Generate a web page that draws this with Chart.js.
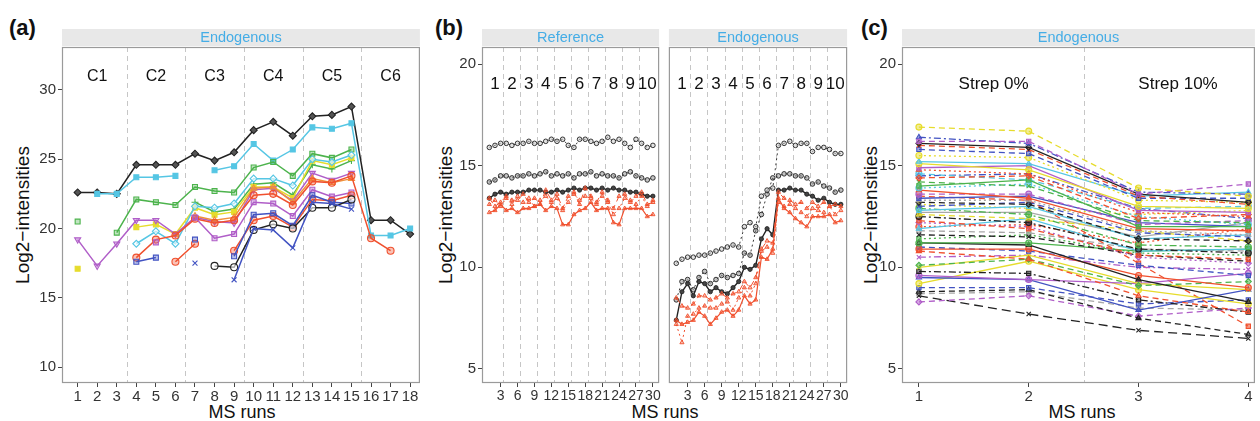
<!DOCTYPE html>
<html>
<head>
<meta charset="utf-8">
<script src="https://cdn.jsdelivr.net/npm/chart.js@4.4.1/dist/chart.umd.min.js"></script>
<style>
body { margin: 0; background: #fff; width: 1260px; height: 421px; overflow: hidden; position: relative;
       font-family: "Liberation Sans", Arial, sans-serif; }
canvas { position: absolute; top: 0; }
.lab { position: absolute; font-weight: bold; font-size: 22px; color: #111; }
.yt { position: absolute; font-size: 19px; color: #111; transform: translate(-50%, -50%) rotate(-90deg); white-space: nowrap; }
.xt { position: absolute; font-size: 18px; color: #111; transform: translate(-50%, -50%); white-space: nowrap; }
</style>
</head>
<body>
<div class="lab" style="left:9px;top:15px">(a)</div>
<div class="lab" style="left:435px;top:15px">(b)</div>
<div class="lab" style="left:861px;top:15px">(c)</div>
<div class="yt" style="left:23px;top:215px">Log2&minus;intensities</div>
<div class="yt" style="left:446px;top:215px">Log2&minus;intensities</div>
<div class="yt" style="left:871px;top:215px">Log2&minus;intensities</div>
<div class="xt" style="left:242px;top:412px">MS runs</div>
<div class="xt" style="left:665px;top:412px">MS runs</div>
<div class="xt" style="left:1082px;top:412px">MS runs</div>
<canvas id="ca" width="425" height="421" style="left:0px"></canvas>
<canvas id="cb1" width="239" height="421" style="left:425px"></canvas>
<canvas id="cb2" width="188" height="421" style="left:664px"></canvas>
<canvas id="cc" width="410" height="421" style="left:850px"></canvas>
<script>
// ---------- panel (a): 18 MS runs, 6 conditions ----------
var aTicks = [1,2,3,4,5,6,7,8,9,10,11,12,13,14,15,16,17,18];
var aGroups = ['C1','C2','C3','C4','C5','C6'];
var aGroupAt = [2,5,8,11,14,17];
var aSeps = [3.5,6.5,9.5,12.5,15.5];
var aBlack     = [22.6,22.6,22.5,24.6,24.6,24.6,25.4,24.9,25.5,27.1,27.7,26.7,28.1,28.2,28.8,20.6,20.6,19.6];
var aCyanTop   = [null,22.5,22.5,23.7,23.7,23.8,null,24.2,24.5,26.1,24.9,25.7,27.3,27.2,27.6,19.5,19.5,20.0];
var aGreenTop  = [20.5,null,19.7,22.1,21.9,21.7,23.0,22.7,22.6,24.4,24.8,23.8,25.4,25.1,25.7,null,null,null];
var aGreenMid  = [null,null,null,null,null,null,21.9,21.2,21.4,23.2,23.3,22.4,24.6,24.3,24.9,null,null,null];
var aYellow    = [17.1,null,null,20.1,20.3,19.6,21.5,21.0,21.2,23.0,23.0,22.2,24.9,24.6,25.1,null,null,null];
var aCyanLow   = [null,null,null,18.9,19.8,18.9,21.6,21.5,21.8,23.6,23.6,23.1,25.0,24.8,25.3,null,null,null];
var aPurpleTri = [19.2,17.3,18.9,20.6,20.6,19.6,20.8,20.5,20.4,22.8,22.9,22.0,24.0,23.5,24.0,null,null,null];
var aOrange    = [null,null,null,null,null,null,20.9,20.6,20.8,22.9,23.0,21.9,23.6,23.3,23.6,null,null,null];
var aRedTop    = [null,null,null,17.9,19.2,19.5,20.7,20.4,20.6,22.4,22.5,21.7,23.4,23.3,23.8,19.3,18.4,null];
var aPurpleSq  = [null,null,null,null,19.0,null,20.8,19.3,19.6,21.9,21.8,20.9,22.8,22.3,22.6,null,null,null];
var aRedLow    = [null,null,null,null,null,17.6,18.9,null,18.4,20.6,20.9,20.1,22.1,22.0,22.4,null,null,null];
var aBlueSq    = [null,null,null,17.6,17.9,null,19.2,null,18.0,21.0,21.1,20.2,22.4,21.9,21.8,null,null,null];
var aBlueX     = [null,null,null,null,null,null,17.5,null,16.3,20.0,19.9,18.6,21.9,21.8,21.4,null,null,null];
var aBlackCirc = [null,null,null,null,null,null,null,17.3,17.2,19.9,20.3,20.0,21.5,21.5,22.1,null,null,null];

// ---------- panel (b): 30 MS runs, 10 groups ----------
var bTicks = [3,6,9,12,15,18,21,24,27,30];
var bGroups = ['1','2','3','4','5','6','7','8','9','10'];
var bGroupAt = [2,5,8,11,14,17,20,23,26,29];
var bSeps = [3.5,6.5,9.5,12.5,15.5,18.5,21.5,24.5,27.5];
var bRefTop      = [15.9,16.0,16.1,16.1,16.0,16.1,16.1,16.2,16.1,16.1,16.2,16.3,16.2,16.3,16.0,15.9,16.3,16.3,16.2,16.1,16.2,16.4,16.2,16.3,16.1,15.9,16.3,16.1,15.9,16.0];
var bRefMid      = [14.2,14.3,14.5,14.5,14.4,14.5,14.5,14.6,14.5,14.6,14.7,14.5,14.6,14.5,14.6,14.4,14.6,14.6,14.7,14.5,14.6,14.5,14.5,14.4,14.6,14.7,14.5,14.4,14.3,14.4];
var bRefSolid    = [13.4,13.6,13.7,13.6,13.7,13.7,13.7,13.8,13.8,13.8,13.7,13.7,13.8,13.7,13.8,13.9,13.8,13.9,13.9,13.8,13.9,13.8,13.9,13.8,13.8,13.7,13.7,13.6,13.5,13.5];
var bRefRedDash  = [13.4,13.0,13.2,13.5,13.3,13.3,13.6,13.2,13.4,13.1,13.8,13.3,13.6,12.9,13.5,13.7,13.1,13.9,13.5,13.2,13.7,13.3,12.9,13.5,13.6,13.2,13.5,13.7,13.1,13.2];
var bRefRedDot   = [13.1,13.3,13.0,13.4,13.1,13.5,13.2,13.4,13.0,13.3,13.5,13.2,13.4,12.8,13.2,13.6,13.3,13.5,13.4,13.1,13.5,13.2,12.6,12.9,13.4,13.3,13.1,13.5,13.0,13.3];
var bRefRedSolid = [12.7,12.8,13.1,12.8,12.9,12.7,12.9,12.9,13.0,13.1,12.8,13.0,12.9,12.1,12.1,12.6,12.8,12.9,13.2,12.8,12.9,12.9,12.2,12.1,12.9,12.9,12.9,12.9,12.5,12.6];
var bEndTop      = [10.2,10.4,10.5,10.5,10.6,10.6,10.7,10.8,10.9,11.0,11.1,11.0,12.0,12.2,12.0,13.5,13.8,13.9,16.0,16.1,16.2,16.0,16.1,16.1,15.7,15.9,15.9,15.8,15.6,15.6];
var bEndMid      = [8.4,9.3,9.4,8.9,9.5,9.8,9.2,9.4,9.6,9.5,9.6,9.7,10.7,10.6,11.8,12.6,13.6,14.4,14.5,14.6,14.6,14.5,14.5,14.4,14.1,14.2,14.0,13.9,13.7,13.8];
var bEndSolid    = [7.4,8.8,9.2,8.6,9.3,9.2,8.8,9.0,8.8,8.7,9.0,9.3,10.0,9.9,10.1,11.4,11.9,11.6,13.8,13.8,13.9,13.8,13.8,13.6,13.5,13.3,13.4,13.2,13.1,13.1];
var bEndRedDash  = [8.5,8.1,8.0,8.2,8.6,8.6,8.4,8.5,8.7,8.5,8.7,8.8,9.3,9.0,9.5,10.9,11.3,11.2,13.7,13.4,13.3,13.1,13.2,12.9,13.2,13.0,13.2,13.0,13.1,13.0];
var bEndRedDot   = [7.2,6.3,7.6,7.7,8.0,8.1,8.0,8.0,8.2,8.3,7.9,8.5,9.0,8.6,9.2,10.8,11.0,10.7,13.2,13.0,13.1,12.9,12.7,12.5,12.9,12.8,12.7,13.0,12.6,12.8];
var bEndRedSolid = [7.4,7.2,7.3,7.4,7.8,7.6,7.2,7.5,7.8,7.9,7.6,7.9,8.6,8.2,8.4,10.5,10.4,10.9,13.4,12.9,12.7,12.4,12.2,12.0,12.5,12.5,12.5,12.6,12.2,12.3];

// ---------- panel (c): 4 MS runs, one value per protein per run ----------
var cTicks = [1,2,3,4];
var cGroups = ['Strep 0%','Strep 10%'];
var cGroupAt = [1.68,3.36];
var cSeps = [2.5];
var cRun1 = [16.9,16.2,16.4,16.1,16.0,15.8,15.5,15.2,15.1,14.9,14.8,14.4,14.2,14.0,13.9,13.8,13.6,13.4,13.3,13.2,13.0,12.8,12.9,12.6,12.5,12.3,11.9,12.2,11.6,11.8,11.2,11.2,10.9,11.0,10.8,10.1,10.0,9.8,9.6,9.5,9.2,9.0,8.8,8.3,8.6,8.7,14.6,13.1,12.0,11.4,12.7,14.5,10.5,13.5];
var cRun2 = [16.7,16.2,16.1,15.9,15.8,15.6,15.4,15.1,14.8,15.0,14.6,14.5,14.0,14.3,14.1,13.4,13.6,13.5,13.3,13.1,13.2,13.0,12.6,12.4,12.2,11.9,12.4,12.0,11.5,11.7,11.2,11.1,10.9,10.8,10.4,10.4,10.6,9.7,9.4,9.4,10.3,9.0,8.9,8.6,7.7,8.8,14.3,12.9,12.1,11.6,12.7,14.6,10.6,13.3];
var cRun3 = [13.9,13.6,13.7,13.6,13.5,13.4,13.3,13.5,13.0,12.8,12.7,12.4,12.3,12.0,12.5,11.9,12.1,12.2,11.8,11.4,11.7,11.4,11.1,11.8,10.9,10.6,10.8,10.5,10.6,10.9,10.8,9.4,9.6,10.1,8.6,9.1,9.2,8.4,9.2,7.9,8.9,8.2,7.5,7.6,6.9,8.0,12.9,12.6,11.2,10.7,11.5,12.9,10.0,10.2];
var cRun4 = [13.5,14.1,13.6,13.2,13.1,13.4,13.2,13.7,12.9,12.7,12.5,12.6,12.2,12.0,12.1,11.8,12.3,12.0,11.6,11.3,11.5,11.6,11.0,11.3,10.7,10.4,10.9,10.2,10.3,10.8,10.9,8.3,9.0,9.6,7.8,9.3,8.9,7.8,9.7,8.9,8.2,8.4,6.7,8.0,6.5,7.9,13.0,12.8,11.9,10.6,12.2,12.4,9.9,7.1];

var yTicksA = [10,15,20,25,30];
var yTicksBC = [5,10,15,20];

// ---------- styles ----------
var FONT = 'Liberation Sans';
var col = { k: '#222222', c: '#55c6e4', g: '#4cb34c', y: '#e6dc2c', p: '#b05ec8', o: '#f0913a',
            r: '#f0502e', b: '#4253c2', a: '#a8a8a8' };
var dashes = { s: [], d: [6, 4], o: [2, 3], dd: [7, 3, 2, 3], L: [9, 5] };
var cColKeys = 'y p b k r b y c y p r r g g c r p b a k b c g y k r c p k a g k r b r g y k p b y b k p k a c y r g a b p r'.split(' ');
var cDashKeys = 'd d dd s d d o s s s o d d s o s d s o d d s dd d dd d s o d d s s s d d d s dd s s s d d d L d d o o o s dd dd d'.split(' ');
var cShapes = ['circle', 'rect', 'triangle', 'rectRot', 'crossRot', 'rect', 'circle', 'triangle'];

function xy(vals) { return vals.map(function (v, i) { return { x: i + 1, y: v }; }); }

function alpha(hex, a) {
    var n = parseInt(hex.slice(1), 16);
    return 'rgba(' + (n >> 16) + ',' + ((n >> 8) & 255) + ',' + (n & 255) + ',' + a + ')';
}

function series(vals, c, shape, o) {
    o = o || {};
    return {
        data: xy(vals),
        borderColor: c,
        backgroundColor: alpha(c, 0.35),
        borderWidth: o.lw || 1.5,
        borderDash: o.dash || [],
        pointStyle: shape,
        rotation: o.rot || 0,
        pointRadius: o.r || 3.5,
        pointBorderWidth: o.pw || 1.1,
        pointBorderColor: c,
        pointBackgroundColor: o.fill || alpha(c, 0.35),
        tension: 0,
        spanGaps: false
    };
}

var decor = {
    id: 'decor',
    beforeDatasetsDraw: function (chart, args, o) {
        var ctx = chart.ctx, a = chart.chartArea, x = chart.scales.x;
        ctx.save();
        ctx.strokeStyle = '#c6c6c6';
        ctx.lineWidth = 1;
        ctx.setLineDash([5, 4]);
        (o.seps || []).forEach(function (v) {
            var px = Math.round(x.getPixelForValue(v)) + 0.5;
            ctx.beginPath(); ctx.moveTo(px, a.top); ctx.lineTo(px, a.bottom); ctx.stroke();
        });
        ctx.setLineDash([]);
        ctx.fillStyle = '#111';
        ctx.font = o.gsize + 'px "' + FONT + '"';
        ctx.textAlign = 'center';
        ctx.textBaseline = 'middle';
        (o.groups || []).forEach(function (t, i) {
            ctx.fillText(t, x.getPixelForValue(o.groupAt[i]), o.gy);
        });
        ctx.restore();
    },
    afterDraw: function (chart, args, o) {
        var ctx = chart.ctx, a = chart.chartArea;
        ctx.save();
        ctx.strokeStyle = '#9a9a9a';
        ctx.lineWidth = 1.2;
        ctx.strokeRect(a.left + 0.5, a.top + 0.5, a.right - a.left - 1, a.bottom - a.top - 1);
        ctx.fillStyle = '#e8e8e8';
        ctx.fillRect(a.left, a.top - 18, a.right - a.left, 17);
        ctx.fillStyle = '#45ade6';
        ctx.font = '14.5px "' + FONT + '"';
        ctx.textAlign = 'center';
        ctx.textBaseline = 'middle';
        ctx.fillText(o.strip, (a.left + a.right) / 2, a.top - 9);
        ctx.restore();
    }
};

function makeChart(id, datasets, s) {
    return new Chart(document.getElementById(id), {
        type: 'line',
        data: { datasets: datasets },
        plugins: [decor],
        options: {
            responsive: false,
            animation: false,
            events: [],
            layout: { padding: { top: 47, right: s.pr || 0, left: s.pl || 0, bottom: 0 } },
            plugins: {
                legend: { display: false },
                tooltip: { enabled: false },
                decor: { strip: s.strip, seps: s.seps, groups: s.groups, groupAt: s.groupAt, gy: s.gy, gsize: s.gsize }
            },
            scales: {
                x: {
                    type: 'linear', min: s.xmin, max: s.xmax,
                    afterBuildTicks: function (sc) { sc.ticks = s.xticks.map(function (v) { return { value: v }; }); },
                    afterFit: function (sc) { sc.height = 38; },
                    ticks: { autoSkip: false, maxRotation: 0, color: '#333', padding: 1, font: { family: FONT, size: s.xfs } },
                    grid: { drawOnChartArea: false, tickLength: 4, color: '#444' },
                    border: { display: false }
                },
                y: {
                    type: 'linear', min: s.ymin, max: s.ymax, display: s.showY,
                    afterBuildTicks: function (sc) { sc.ticks = s.yticks.map(function (v) { return { value: v }; }); },
                    afterFit: function (sc) { sc.width = s.yw; },
                    ticks: { color: '#333', padding: 2, font: { family: FONT, size: 15 } },
                    grid: { drawOnChartArea: false, tickLength: 4, color: '#444' },
                    border: { display: false }
                }
            }
        }
    });
}

// panel (a)
makeChart('ca', [
    series(aBlueX, col.b, 'crossRot'),
    series(aBlackCirc, col.k, 'circle', { fill: 'rgba(255,255,255,0.6)' }),
    series(aBlueSq, col.b, 'rect'),
    series(aRedLow, col.r, 'circle'),
    series(aPurpleSq, col.p, 'rect'),
    series(aRedTop, col.r, 'circle'),
    series(aOrange, col.o, 'triangle'),
    series(aPurpleTri, col.p, 'triangle', { rot: 180 }),
    series(aCyanLow, col.c, 'rectRot', { fill: 'rgba(255,255,255,0.6)' }),
    series(aYellow, col.y, 'rect', { fill: col.y }),
    series(aGreenMid, col.g, 'cross'),
    series(aGreenTop, col.g, 'rect'),
    series(aCyanTop, col.c, 'rect', { fill: col.c }),
    series(aBlack, col.k, 'rectRot', { fill: '#555' })
], { strip: 'Endogenous', seps: aSeps, groups: aGroups, groupAt: aGroupAt, gy: 77, gsize: 16,
     xmin: 0.2, xmax: 18.5, xticks: aTicks, xfs: 15, ymin: 8.85, ymax: 33.1, yticks: yTicksA,
     showY: true, yw: 62, pr: 4 });

// panel (b)
function bSet(top, mid, solid, rdash, rdot, rsolid) {
    return [
        series(rdot, col.r, 'triangle', { lw: 1, dash: dashes.o, r: 2.4, pw: 0.9 }),
        series(rdash, col.r, 'triangle', { lw: 1, dash: dashes.d, r: 2.4, pw: 0.9 }),
        series(rsolid, col.r, 'triangle', { lw: 1.2, r: 2.4, pw: 0.9 }),
        series(top, col.k, 'circle', { lw: 0.9, dash: dashes.o, r: 2.3, pw: 0.9, fill: 'rgba(200,200,200,0.5)' }),
        series(mid, col.k, 'circle', { lw: 0.9, dash: dashes.o, r: 2.3, pw: 0.9, fill: 'rgba(140,140,140,0.5)' }),
        series(solid, col.k, 'circle', { lw: 1.4, r: 2.1, pw: 0.9, fill: '#444' })
    ];
}
makeChart('cb1', bSet(bRefTop, bRefMid, bRefSolid, bRefRedDash, bRefRedDot, bRefRedSolid),
    { strip: 'Reference', seps: bSeps, groups: bGroups, groupAt: bGroupAt, gy: 84, gsize: 17,
      xmin: -0.3, xmax: 31.1, xticks: bTicks, xfs: 14, ymin: 4.31, ymax: 20.84, yticks: yTicksBC,
      showY: true, yw: 57, pr: 2 });
makeChart('cb2', bSet(bEndTop, bEndMid, bEndSolid, bEndRedDash, bEndRedDot, bEndRedSolid),
    { strip: 'Endogenous', seps: bSeps, groups: bGroups, groupAt: bGroupAt, gy: 84, gsize: 17,
      xmin: -0.3, xmax: 31.1, xticks: bTicks, xfs: 14, ymin: 4.31, ymax: 20.84, yticks: yTicksBC,
      showY: false, yw: 0, pl: 3, pr: 3 });

// panel (c)
var cSets = cRun1.map(function (v, i) {
    var c = col[cColKeys[i]];
    return series([cRun1[i], cRun2[i], cRun3[i], cRun4[i]], c, cShapes[i % cShapes.length],
        { lw: 1.3, dash: dashes[cDashKeys[i]], r: 3, fill: alpha(c, 0.5) });
});
makeChart('cc', cSets,
    { strip: 'Endogenous', seps: cSeps, groups: cGroups, groupAt: cGroupAt, gy: 84, gsize: 17,
      xmin: 0.846, xmax: 4.06, xticks: cTicks, xfs: 15, ymin: 4.31, ymax: 20.84, yticks: yTicksBC,
      showY: true, yw: 52, pr: 2 });
</script>
</body>
</html>
